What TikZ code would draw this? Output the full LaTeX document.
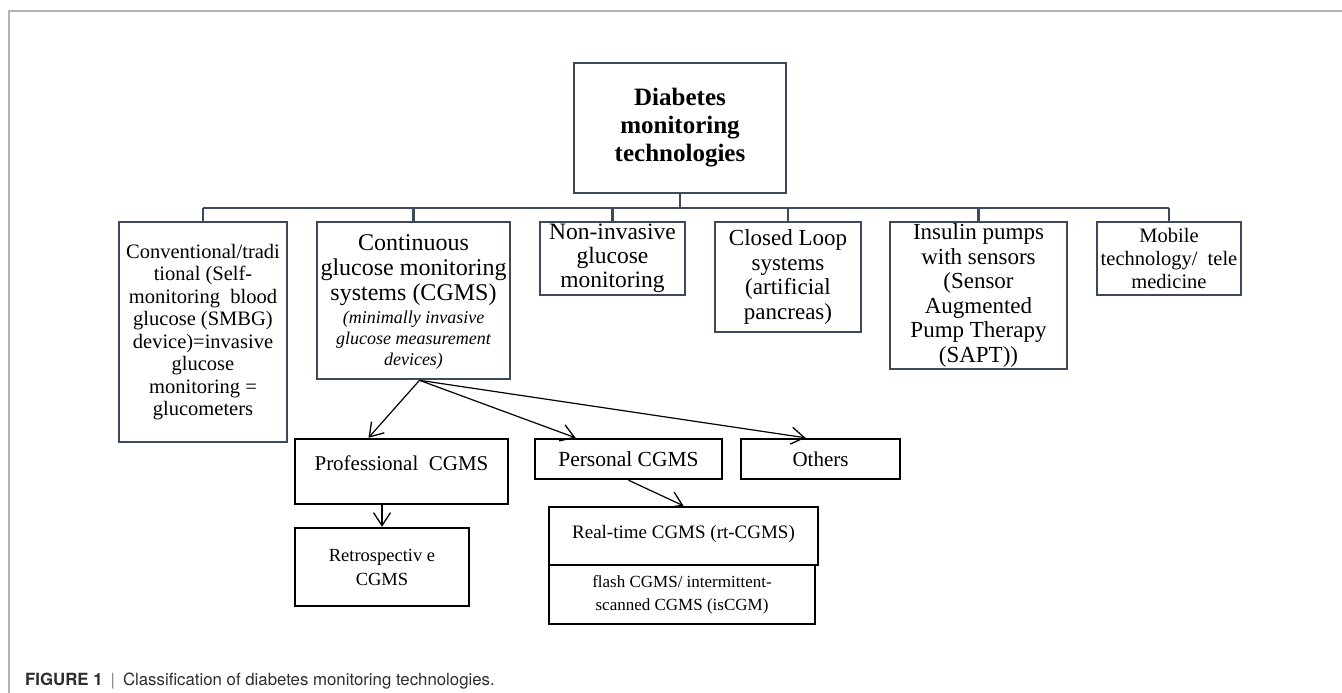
\documentclass[tikz,border=0pt]{standalone}
\usepackage{fontspec}
\setmainfont{Liberation Serif}
\newfontfamily\captionfont{TeX Gyre Heros}
\usetikzlibrary{arrows.meta}
\definecolor{slateline}{RGB}{62,74,92}
\definecolor{framegray}{RGB}{180,180,180}
\definecolor{captiongray}{RGB}{45,45,45}

\begin{document}
\begin{tikzpicture}[x=1pt, y=-1pt,
    topbox/.style={draw=slateline, line width=2.6pt, inner sep=0pt, align=center},
    subbox/.style={draw=black, line width=2.4pt, inner sep=0pt, align=center},
    tree/.style={slateline, line width=2.6pt},
    arr/.style={-{Straight Barb[length=13pt,width=17pt,line width=1.3pt]}, line width=1.2pt}]
  \useasboundingbox (0,0) rectangle (1342,693);
  \draw[framegray, line width=1.5pt] (1342,11) -- (9,11) -- (9,693);

  % root and first level
  \node[topbox, minimum width=212pt, minimum height=130pt, font=\fontsize{25}{28}\selectfont\bfseries] (root) at (680,128) {Diabetes\\monitoring\\technologies};
  \node[topbox, minimum width=168pt, minimum height=220pt, font=\fontsize{20.5}{22.5}\selectfont] (conv) at (203,332) {Conventional/tradi\\tional (Self-\\monitoring~~blood\\glucose (SMBG)\\device)=invasive\\glucose\\monitoring =\\glucometers};
  \node[topbox, minimum width=193pt, minimum height=157pt, text depth=0pt, font=\fontsize{24}{25}\selectfont] (cgms) at (413.5,300.5) {Continuous\\glucose monitoring\\systems (CGMS)\\[-2pt]{\fontsize{18}{20}\selectfont\itshape (minimally invasive}\\[-4pt]{\fontsize{18}{20}\selectfont\itshape glucose measurement}\\[-4pt]{\fontsize{18}{20}\selectfont\itshape devices)}};
  \node[topbox, minimum width=145pt, minimum height=73pt, font=\fontsize{23.5}{24}\selectfont] (noninv) at (612.5,258.5) {Non-invasive\\glucose\\monitoring};
  \node[topbox, minimum width=146pt, minimum height=110pt, font=\fontsize{23}{24.7}\selectfont] (closed) at (788,277) {Closed Loop\\systems\\(artificial\\pancreas)};
  \node[topbox, minimum width=177pt, minimum height=147pt, font=\fontsize{23}{24.5}\selectfont] (pumps) at (978.5,295.5) {Insulin pumps\\with sensors\\(Sensor\\Augmented\\Pump Therapy\\(SAPT))};
  \node[topbox, minimum width=144pt, minimum height=73pt, font=\fontsize{20.5}{22.7}\selectfont] (mobile) at (1169,258.5) {Mobile\\technology/~~tele\\medicine};

  % tree lines
  \coordinate (busline) at (0,208);
  \draw[tree] (root.south) -- (root.south |- busline);
  \draw[tree] (conv.north |- busline) -- (mobile.north |- busline);
  \foreach \n in {conv,cgms,noninv,closed,pumps,mobile}
    \draw[tree] (\n.north) -- (\n.north |- busline);

  % CGMS kinds
  \node[subbox, minimum width=213pt, minimum height=65pt, text depth=16pt, font=\fontsize{21}{24}\selectfont] (prof) at (401.5,471.5) {Professional~~CGMS};
  \node[subbox, minimum width=187pt, minimum height=40pt, font=\fontsize{21.5}{24}\selectfont] (pers) at (628.5,459) {Personal CGMS};
  \node[subbox, minimum width=159pt, minimum height=40pt, font=\fontsize{21}{24}\selectfont] (others) at (820.5,459) {Others};
  \node[subbox, minimum width=174pt, minimum height=78pt, font=\fontsize{18.5}{24}\selectfont] (retro) at (382,567) {Retrospectiv e\\CGMS};
  \node[subbox, minimum width=269pt, minimum height=58pt, text depth=9pt, font=\fontsize{19}{24}\selectfont] (rt) at (683.5,536) {Real-time CGMS (rt-CGMS)};
  \node[subbox, minimum width=266pt, minimum height=59pt, font=\fontsize{17}{23}\selectfont] (flash) at (682,594.5) {flash CGMS/ intermittent-\\scanned CGMS (isCGM)};

  % arrows
  \coordinate (fork) at ([xshift=6pt]cgms.south);
  \draw[arr] (fork) -- ([xshift=-33pt]prof.north);
  \draw[arr] (fork) -- ([xshift=-53pt]pers.north);
  \draw[arr] (fork) -- ([xshift=-15pt]others.north);
  \draw[arr] (prof.south -| retro.north) -- (retro.north);
  \draw[arr] (pers.south) -- (rt.north);

  \node[anchor=base west, text=captiongray, inner sep=0pt, font=\captionfont\fontsize{16.8}{20}\selectfont] (caption) at (25,685) {\textbf{FIGURE 1}\hspace{8pt}{\color{gray}|}\hspace{8pt}Classification of diabetes monitoring technologies.};
\end{tikzpicture}
\end{document}
